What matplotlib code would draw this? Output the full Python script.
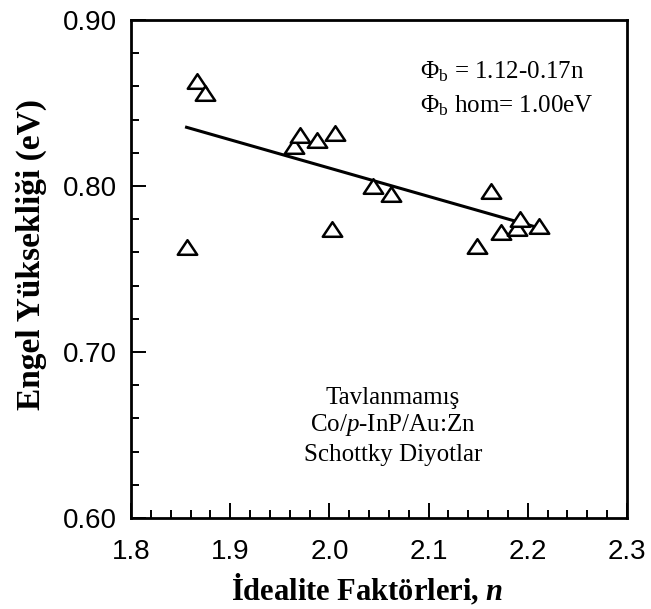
import numpy as np
import matplotlib
matplotlib.use("Agg")
import matplotlib.pyplot as plt
from matplotlib.path import Path
from matplotlib.ticker import MultipleLocator, FormatStrFormatter

# Ideality factor vs. barrier height for the diodes
ideality_n = [1.856, 1.867, 1.875, 1.964, 1.970, 1.988, 2.003, 2.006,
              2.044, 2.062, 2.149, 2.163, 2.173, 2.189, 2.192, 2.211]
barrier_eV = [0.763, 0.863, 0.856, 0.824, 0.831, 0.828, 0.774, 0.832,
              0.800, 0.795, 0.764, 0.797, 0.772, 0.775, 0.780, 0.776]

# linear fit drawn through the points
fit_intercept = 1.152
fit_slope = -0.1706

x_ticks = [1.8, 1.9, 2.0, 2.1, 2.2, 2.3]
y_ticks = [0.60, 0.70, 0.80, 0.90]

plt.rcParams['mathtext.fontset'] = 'custom'
plt.rcParams['mathtext.rm'] = 'Liberation Serif'
plt.rcParams['mathtext.it'] = 'Liberation Serif:italic'
plt.rcParams['mathtext.bf'] = 'Liberation Serif:bold'
plt.rcParams['mathtext.bfit'] = 'Liberation Serif:italic:bold'

serif = 'Liberation Serif'
sans = 'Liberation Sans'

fig = plt.figure(figsize=(6.51, 6.09), dpi=100)
ax = fig.add_axes([131 / 651, 1 - 518 / 609, 496 / 651, 498 / 609])

# slightly flattened open triangle marker
tri = Path([(-1, -0.75), (1, -0.75), (0, 0.75), (-1, -0.75)],
           [Path.MOVETO, Path.LINETO, Path.LINETO, Path.CLOSEPOLY])
ax.plot(ideality_n, barrier_eV, linestyle='none', marker=tri, markersize=14,
        markerfacecolor='white', markeredgecolor='black', markeredgewidth=1.8,
        zorder=3)

fx = np.array([min(ideality_n), max(ideality_n)])
ax.plot(fx, fit_intercept + fit_slope * fx, color='black', linewidth=2.2, zorder=2)

ax.set_xlim(x_ticks[0], x_ticks[-1])
ax.set_ylim(y_ticks[0], y_ticks[-1])
ax.set_xticks(x_ticks)
ax.set_yticks(y_ticks)
ax.xaxis.set_minor_locator(MultipleLocator(0.02))
ax.yaxis.set_minor_locator(MultipleLocator(0.02))
ax.xaxis.set_major_formatter(FormatStrFormatter('%.1f'))
ax.yaxis.set_major_formatter(FormatStrFormatter('%.2f'))

for s in ax.spines.values():
    s.set_linewidth(2.0)

ax.tick_params(which='both', direction='in', top=False, right=False, width=1.4)
ax.tick_params(which='major', length=10.5)
ax.tick_params(which='minor', length=5.5)
ax.tick_params(axis='x', which='major', pad=15, labelsize=20)
ax.tick_params(axis='y', which='major', pad=10, labelsize=20)
for lab in ax.get_xticklabels() + ax.get_yticklabels():
    lab.set_fontfamily(sans)

ax.text(0.476, -0.165, r'İdealite Faktörleri, $\mathbfit{n}$', transform=ax.transAxes,
        ha='center', va='baseline', fontsize=22, fontweight='bold', family=serif)
ax.text(-0.2, 0.53, 'Engel Yüksekliği (eV)', transform=ax.transAxes,
        rotation=90, ha='center', va='center', fontsize=24, fontweight='bold',
        family=serif)

ax.text(0.583, 0.8835, r'Φ$_\mathregular{b}$ = 1.12-0.17n', transform=ax.transAxes,
        ha='left', va='baseline', fontsize=18, family=serif)
ax.text(0.583, 0.815, r'Φ$_\mathregular{b}$ hom= 1.00eV', transform=ax.transAxes,
        ha='left', va='baseline', fontsize=18, family=serif)

ax.text(0.528, 0.229, 'Tavlanmamış', transform=ax.transAxes,
        ha='center', va='baseline', fontsize=18, family=serif)
ax.text(0.528, 0.175, r'Co/$\mathit{p}$-InP/Au:Zn', transform=ax.transAxes,
        ha='center', va='baseline', fontsize=18, family=serif)
ax.text(0.528, 0.114, 'Schottky Diyotlar', transform=ax.transAxes,
        ha='center', va='baseline', fontsize=18, family=serif)

fig.savefig('out.png', dpi=100, facecolor='white')
